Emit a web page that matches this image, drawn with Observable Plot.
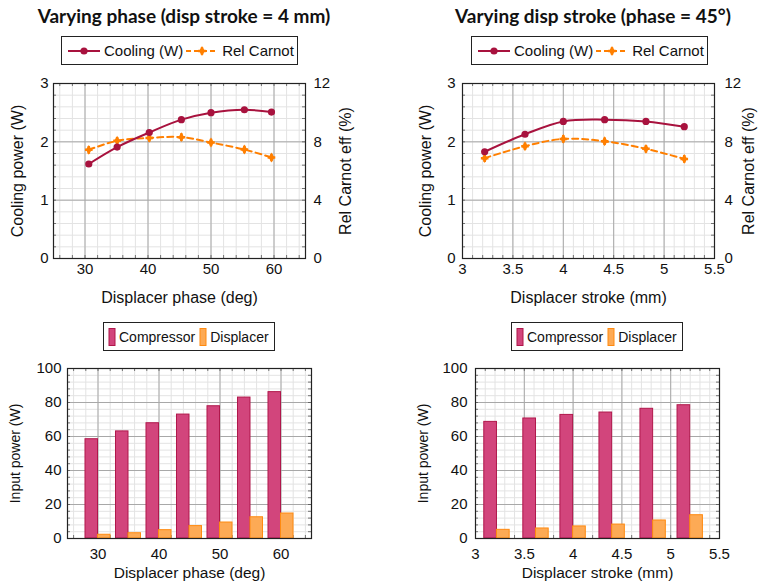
<!DOCTYPE html>
<html>
<head>
<meta charset="utf-8">
<script src="https://cdn.jsdelivr.net/npm/d3@7"></script>
<script src="https://cdn.jsdelivr.net/npm/@observablehq/plot@0.6"></script>
<style>
  html, body { margin: 0; padding: 0; background: #fff; }
  #root { position: relative; width: 758px; height: 584px; overflow: hidden; font-family: "Liberation Sans", Arial, sans-serif; }
  .title { position: absolute; font-family: Lato, "Open Sans", sans-serif; font-weight: 700; font-size: 19px; line-height: 22px; color: #111; white-space: nowrap; transform: translateX(-50%); }
  .panel { position: absolute; }
  .panel text { font-family: "Liberation Sans", Arial, sans-serif; }
  .legend { position: absolute; border: 1px solid #222; background: #fff; display: flex; align-items: center; box-sizing: border-box; white-space: nowrap; color: #111; }
  .legend svg { display: block; flex: none; }
</style>
</head>
<body>
<div id="root"></div>
<script>
// ---------- data ----------
// Top-left: varying displacer phase (disp stroke = 4 mm)
const phaseX = [30.6, 35.1, 40.2, 45.3, 50.0, 55.3, 59.6];
const phaseCooling = [1.62, 1.91, 2.16, 2.38, 2.50, 2.55, 2.51];
const phaseCarnot = [7.45, 8.07, 8.27, 8.32, 7.95, 7.47, 6.93];
// Top-right: varying displacer stroke (phase = 45°)
const strokeX = [3.22, 3.62, 4.0, 4.41, 4.82, 5.2];
const strokeCooling = [1.83, 2.13, 2.35, 2.38, 2.35, 2.26];
const strokeCarnot = [6.88, 7.70, 8.20, 8.04, 7.52, 6.83];
// Bottom-left: input power vs phase
const phaseBarX = [30, 35, 40, 45, 50, 55, 60];
const phaseCompressor = [58.4, 63.0, 67.8, 72.9, 77.8, 82.9, 86.1];
const phaseDisplacer = [2.2, 3.1, 4.9, 7.3, 9.4, 12.5, 14.7];
// Bottom-right: input power vs stroke
const strokeBarX = [3.22, 3.62, 4.0, 4.40, 4.82, 5.2];
const strokeCompressor = [68.6, 70.6, 72.7, 74.1, 76.3, 78.4];
const strokeDisplacer = [5.1, 5.9, 7.1, 8.2, 10.6, 13.7];

// tick labels
const phaseTicks = [30, 40, 50, 60];
const strokeTicks = [3, 3.5, 4, 4.5, 5, 5.5];
const coolingTicks = [0, 1, 2, 3];
const carnotTicks = [0, 4, 8, 12];
const powerTicks = [0, 20, 40, 60, 80, 100];

const titles = ["Varying phase (disp stroke = 4 mm)", "Varying disp stroke (phase = 45°)"];
const lineLegend = ["Cooling (W)", "Rel Carnot"];
const barLegend = ["Compressor", "Displacer"];

// ---------- style ----------
const FONT = "Liberation Sans, Arial, sans-serif";
const C_COOL = "#a8123e";
const C_CARNOT = "#ff7f00";
const C_COMP_FILL = "#d2457c", C_COMP_STROKE = "#b0174b";
const C_DISP_FILL = "#fdaa55", C_DISP_STROKE = "#ff8a10";
const GRID_MINOR = "#e3e3e3", GRID_MAJOR = "#a8a8a8", FRAME = "#222";
const carnotRatio = carnotTicks[carnotTicks.length - 1] / coolingTicks[coolingTicks.length - 1];
const fmt = d => String(d);

const root = document.getElementById("root");

function place(el, left, top) {
  el.style.position = "absolute";
  el.style.left = left + "px"; el.style.top = top + "px";
  root.appendChild(el);
}

function innerTicks(xMinor, yMinor, W, H, m, len) {
  const pw = W - m.left - m.right, ph = H - m.top - m.bottom;
  const s = {stroke: "#555", strokeWidth: 0.8};
  return [
    Plot.tickX(xMinor, {x: d => d, insetTop: ph - len, ...s}),
    Plot.tickX(xMinor, {x: d => d, insetBottom: ph - len, ...s}),
    Plot.tickY(yMinor, {y: d => d, insetRight: pw - len, ...s}),
    Plot.tickY(yMinor, {y: d => d, insetLeft: pw - len, ...s})
  ];
}

const txt = {fontFamily: FONT, fill: "#111"};

function linePanel(o) {
  const W = 379, H = 244;
  const m = o.margin;
  const rows = o.xs.map((x, i) => ({x, cooling: o.cooling[i], carnot: o.carnot[i]}));
  const yMinor = d3.range(0, 3.0001, 0.2);
  return Plot.plot({
    width: W, height: H,
    marginLeft: m.left, marginRight: m.right, marginTop: m.top, marginBottom: m.bottom,
    x: {domain: o.xDomain},
    y: {domain: [coolingTicks[0], coolingTicks[coolingTicks.length - 1]]},
    style: `font-family: ${FONT}; font-size: 15px; color: #111; background: transparent;`,
    marks: [
      Plot.ruleX(o.xMinor, {stroke: GRID_MINOR}),
      Plot.ruleY(yMinor, {stroke: GRID_MINOR}),
      Plot.ruleX(o.xMajor, {stroke: GRID_MAJOR}),
      Plot.ruleY(coolingTicks, {stroke: GRID_MAJOR}),
      ...innerTicks(o.xMinor, yMinor, W, H, m, 3),
      Plot.frame({stroke: FRAME, strokeWidth: 1.2}),
      Plot.axisX(o.xMajor, {tickSize: 0, tickPadding: 5, label: null, tickFormat: fmt, fontSize: 15, ...txt}),
      Plot.axisY(coolingTicks, {tickSize: 0, tickPadding: o.padL, label: null, tickFormat: fmt, fontSize: 15, ...txt}),
      Plot.axisY(coolingTicks, {anchor: "right", tickSize: 0, tickPadding: o.padR, label: null, fontSize: 15, ...txt,
        tickFormat: d => String(carnotTicks[coolingTicks.indexOf(d)])}),
      Plot.line(rows, {x: "x", y: d => d.carnot / carnotRatio, stroke: C_CARNOT, strokeWidth: 2, strokeDasharray: "6,4", curve: "catmull-rom"}),
      Plot.dot(rows, {x: "x", y: d => d.carnot / carnotRatio, symbol: "diamond", r: 3, fill: C_CARNOT}),
      Plot.dot(rows, {x: "x", y: d => d.carnot / carnotRatio, symbol: "cross", r: 3.2, fill: C_CARNOT}),
      Plot.line(rows, {x: "x", y: "cooling", stroke: C_COOL, strokeWidth: 2, curve: "catmull-rom"}),
      Plot.dot(rows, {x: "x", y: "cooling", r: 3.6, fill: C_COOL}),
      Plot.text([o.xLabel], {frameAnchor: "bottom", dy: 39, fontSize: 16, lineAnchor: "middle", textAnchor: "middle", ...txt}),
      Plot.text(["Cooling power (W)"], {frameAnchor: "left", dx: -o.labL, rotate: -90, fontSize: 16, textAnchor: "middle", lineAnchor: "middle", ...txt}),
      Plot.text(["Rel Carnot eff (%)"], {frameAnchor: "right", dx: o.labR, rotate: -90, fontSize: 16, textAnchor: "middle", lineAnchor: "middle", ...txt})
    ]
  });
}

function barPanel(o) {
  const W = 379, H = 229;
  const m = o.margin;
  const rows = o.xs.map((x, i) => ({x, comp: o.comp[i], disp: o.disp[i]}));
  const yMinor = d3.range(0, 100.001, 4);
  return Plot.plot({
    width: W, height: H,
    marginLeft: m.left, marginRight: m.right, marginTop: m.top, marginBottom: m.bottom,
    x: {domain: o.xDomain},
    y: {domain: [powerTicks[0], powerTicks[powerTicks.length - 1]]},
    style: `font-family: ${FONT}; font-size: 15px; color: #111; background: transparent;`,
    marks: [
      Plot.ruleX(o.xMinor, {stroke: GRID_MINOR}),
      Plot.ruleY(yMinor, {stroke: GRID_MINOR}),
      Plot.ruleX(o.xMajor, {stroke: GRID_MAJOR}),
      Plot.ruleY(powerTicks, {stroke: GRID_MAJOR}),
      ...innerTicks(o.xMinor, yMinor, W, H, m, 3),
      Plot.rectY(rows, {x1: d => d.x - o.barW, x2: d => d.x, y: "comp", fill: C_COMP_FILL, stroke: C_COMP_STROKE, strokeWidth: 1}),
      Plot.rectY(rows, {x1: d => d.x, x2: d => d.x + o.barW, y: "disp", fill: C_DISP_FILL, stroke: C_DISP_STROKE, strokeWidth: 1}),
      Plot.frame({stroke: FRAME, strokeWidth: 1.2}),
      Plot.axisX(o.xMajor, {tickSize: 0, tickPadding: 10, label: null, tickFormat: fmt, fontSize: 15, ...txt}),
      Plot.axisY(powerTicks, {tickSize: 0, tickPadding: o.padL, label: null, tickFormat: fmt, fontSize: 15, ...txt}),
      Plot.text([o.xLabel], {frameAnchor: "bottom", dy: 35, fontSize: 15.5, lineAnchor: "middle", textAnchor: "middle", ...txt}),
      Plot.text(["Input power (W)"], {frameAnchor: "left", dx: -o.labL, rotate: -90, fontSize: 14, textAnchor: "middle", lineAnchor: "middle", ...txt})
    ]
  });
}

function iconLine(color, dashed, marker) {
  const s = d3.create("svg").attr("width", 34).attr("height", 14);
  s.append("line").attr("x1", 1).attr("x2", 33).attr("y1", 7).attr("y2", 7)
    .attr("stroke", color).attr("stroke-width", 2).attr("stroke-dasharray", dashed ? "5,3" : null);
  if (marker === "circle") s.append("circle").attr("cx", 17).attr("cy", 7).attr("r", 3.6).attr("fill", color);
  else {
    s.append("path").attr("transform", "translate(17,7)").attr("d", d3.symbol(d3.symbolDiamond, 28)()).attr("fill", color);
    s.append("path").attr("transform", "translate(17,7)").attr("d", d3.symbol(d3.symbolCross, 32)()).attr("fill", color);
  }
  return s.node();
}
function iconBar(fill, stroke) {
  const s = d3.create("svg").attr("width", 9).attr("height", 18);
  s.append("rect").attr("x", 1).attr("y", 0.5).attr("width", 6).attr("height", 17)
    .attr("fill", fill).attr("stroke", stroke);
  return s.node();
}
function lineLegendBox(left, top) {
  const d = document.createElement("div");
  d.className = "legend";
  Object.assign(d.style, {width: "237px", height: "29px", fontSize: "15px", paddingLeft: "5px"});
  const t1 = document.createElement("span"); t1.textContent = lineLegend[0]; t1.style.margin = "0 2px 0 3px";
  const t2 = document.createElement("span"); t2.textContent = lineLegend[1]; t2.style.marginLeft = "3px";
  d.append(iconLine(C_COOL, false, "circle"), t1, iconLine(C_CARNOT, true, "cross"), t2);
  place(d, left, top);
}
function barLegendBox(left, top) {
  const d = document.createElement("div");
  d.className = "legend";
  Object.assign(d.style, {width: "172px", height: "29px", fontSize: "14px", paddingLeft: "4px"});
  const t1 = document.createElement("span"); t1.textContent = barLegend[0]; t1.style.margin = "0 4px 0 2px";
  const t2 = document.createElement("span"); t2.textContent = barLegend[1]; t2.style.marginLeft = "2px";
  d.append(iconBar(C_COMP_FILL, C_COMP_STROKE), t1, iconBar(C_DISP_FILL, C_DISP_STROKE), t2);
  place(d, left, top);
}

// titles
titles.forEach((t, i) => {
  const d = document.createElement("div");
  d.className = "title"; d.textContent = t;
  place(d, i === 0 ? 184 : 593, 5);
});

// legends
lineLegendBox(61, 36);
lineLegendBox(471, 36);
barLegendBox(103, 322);
barLegendBox(511, 322);

// panels
const tl = linePanel({
  xs: phaseX, cooling: phaseCooling, carnot: phaseCarnot,
  xDomain: [25, 65], xMajor: phaseTicks, xMinor: d3.range(26, 65, 2),
  xLabel: "Displacer phase (deg)",
  margin: {left: 53, right: 74, top: 17, bottom: 52}, padL: 5, padR: 8, labL: 36, labR: 40
});
tl.classList.add("panel"); place(tl, 0, 66);

const tr = linePanel({
  xs: strokeX, cooling: strokeCooling, carnot: strokeCarnot,
  xDomain: [3, 5.5], xMajor: strokeTicks, xMinor: d3.range(3.1, 5.45, 0.1),
  xLabel: "Displacer stroke (mm)",
  margin: {left: 83, right: 44, top: 17, bottom: 52}, padL: 7, padR: 10, labL: 37, labR: 34
});
tr.classList.add("panel"); place(tr, 379, 66);

const bl = barPanel({
  xs: phaseBarX, comp: phaseCompressor, disp: phaseDisplacer, barW: 2.05,
  xDomain: [25, 65], xMajor: phaseTicks, xMinor: d3.range(26, 65, 2),
  xLabel: "Displacer phase (deg)",
  margin: {left: 67, right: 68, top: 13, bottom: 46}, padL: 6, labL: 52
});
bl.classList.add("panel"); place(bl, 0, 355);

const br = barPanel({
  xs: strokeBarX, comp: strokeCompressor, disp: strokeDisplacer, barW: 0.13,
  xDomain: [3, 5.5], xMajor: strokeTicks, xMinor: d3.range(3.1, 5.45, 0.1),
  xLabel: "Displacer stroke (mm)",
  margin: {left: 96, right: 39, top: 13, bottom: 46}, padL: 8, labL: 52
});
br.classList.add("panel"); place(br, 379, 355);
</script>
</body>
</html>
